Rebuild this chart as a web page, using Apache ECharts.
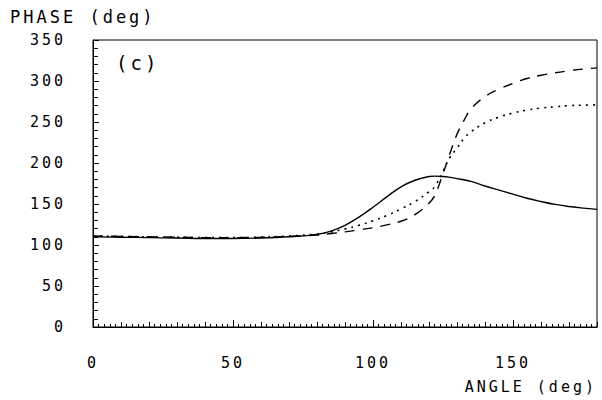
<!DOCTYPE html>
<html>
<head>
<meta charset="utf-8">
<script src="https://cdn.jsdelivr.net/npm/echarts@6/dist/echarts.min.js"></script>
<style>
html,body{margin:0;padding:0;background:#fff;}
#c{width:602px;height:400px;}
#c text{letter-spacing:3px;}
</style>
</head>
<body>
<div id="c"></div>
<script>
const angles = [0,10,20,30,40,50,60,70,80,85,90,95,100,105,110,115,120,122,125,127.5,130,132.5,135,140,145,150,155,160,165,170,175,180];
const solid  = [110,109.5,109,108.5,108,108,108.5,110,113,117,124,134,146,159,171,179,183.5,184,183.5,182.5,181,179.5,177.5,172,167,162,157,153,149.5,147,145,143.5];
const dashed = [111,110.5,110,109.5,109,109,109.5,110.5,112,114,116,118.5,121,124.5,129,137,151,160,187,212,235,252,266,281,290,297,303,307,310,312.5,314.5,316];
const dotted = [111,110.5,110,109.5,109,109,109.5,111,113.5,116,119.5,124,129.5,136,144,153,165,171,190,207,218,230,238,249,256,261,264.5,267,268.5,270,270.5,271];
const xTicks = [0,50,100,150];
const yTicks = [0,50,100,150,200,250,300,350];

const pair = arr => angles.map((a,i)=>[a,arr[i]]);
const font = '"DejaVu Sans Mono", monospace';
const chart = echarts.init(document.getElementById('c'), null, {renderer:'svg'});
chart.setOption({
  backgroundColor:'#fff',
  animation:false,
  grid:{left:93,right:5,top:40,bottom:73,show:true,borderColor:'#000',borderWidth:1,backgroundColor:'transparent'},
  xAxis:[{
    type:'value',min:0,max:180,interval:50,
    axisLine:{lineStyle:{color:'#000',width:1}},
    axisTick:{show:true,inside:true,length:7,lineStyle:{color:'#000'}},
    axisLabel:{color:'#000',fontFamily:font,fontSize:15,margin:28,showMaxLabel:false,
      formatter:v=>xTicks.indexOf(v)>=0?String(v):''},
    splitLine:{show:false},
    name:'ANGLE (deg)',nameLocation:'end',nameGap:0,
    nameTextStyle:{color:'#000',fontFamily:font,fontSize:15,align:'right',verticalAlign:'top',padding:[52,0,0,0]}
  },{
    type:'value',min:0,max:180,interval:10,position:'bottom',
    axisLine:{show:false},
    axisTick:{show:true,inside:true,length:5,lineStyle:{color:'#000'}},
    minorTick:{show:true,splitNumber:5,length:3,lineStyle:{color:'#000'}},
    axisLabel:{show:false},splitLine:{show:false}
  }],
  yAxis:[{
    type:'value',min:0,max:350,interval:50,
    axisLine:{show:true,lineStyle:{color:'#000',width:1}},
    axisTick:{show:true,inside:true,length:6,lineStyle:{color:'#000'}},
    minorTick:{show:true,splitNumber:5,length:5,lineStyle:{color:'#000'}},
    axisLabel:{color:'#000',fontFamily:font,fontSize:15,margin:27,
      formatter:v=>yTicks.indexOf(v)>=0?String(v):''},
    splitLine:{show:false}
  }],
  graphic:[
    {type:'text',left:10,top:8,style:{text:'PHASE (deg)',font:'17px '+font,fill:'#000'}},
    {type:'text',left:116,top:53,style:{text:'(c)',font:'19px '+font,fill:'#000'}}
  ],
  series:[
    {type:'line',data:pair(solid),smooth:0.4,showSymbol:false,xAxisIndex:0,
      lineStyle:{color:'#000',width:1.4,type:'solid'}},
    {type:'line',data:pair(dashed),smooth:0.4,showSymbol:false,xAxisIndex:0,
      lineStyle:{color:'#000',width:1.4,type:[10,8]}},
    {type:'line',data:pair(dotted),smooth:0.4,showSymbol:false,xAxisIndex:0,
      lineStyle:{color:'#000',width:1.6,type:[2,5]}}
  ]
});
</script>
</body>
</html>
